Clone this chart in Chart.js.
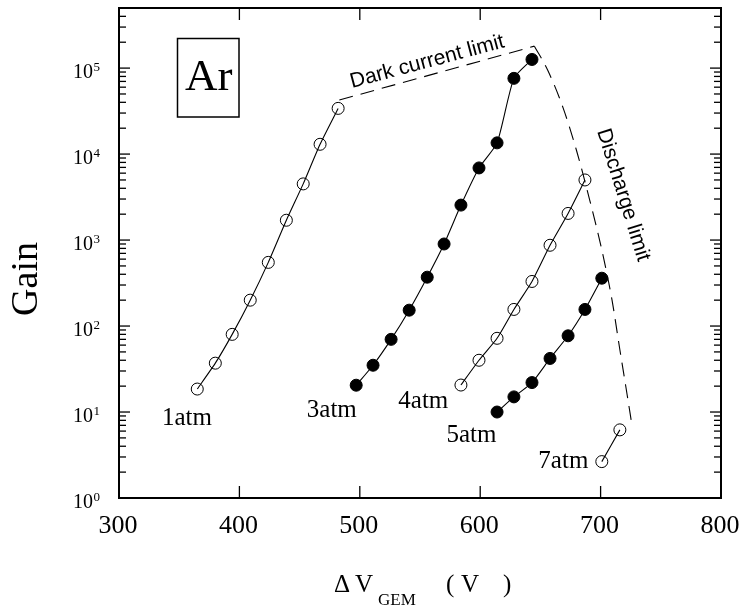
<!DOCTYPE html>
<html>
<head>
<meta charset="utf-8">
<script src="https://cdn.jsdelivr.net/npm/chart.js@4.4.0/dist/chart.umd.min.js"></script>
<style>
body { margin: 0; background: #fff; }
</style>
</head>
<body>
<canvas id="myChart" width="745" height="607"></canvas>
<script>
// gain curves, argon
const v1atm = [365, 380, 394, 409, 424, 439, 453, 467, 482];
const g1atm = [18.5, 37, 80, 200, 550, 1700, 4500, 13000, 34000];
const v3atm = [497, 511, 526, 541, 556, 570, 584, 599, 614, 628, 643];
const g3atm = [20.5, 35, 70, 153, 370, 900, 2550, 6900, 13500, 76000, 126000];
const v4atm = [584, 599, 614, 628, 643, 658, 673, 687];
const g4atm = [20.6, 40, 72, 156, 330, 870, 2040, 5000];
const v5atm = [614, 628, 643, 658, 673, 687, 701];
const g5atm = [10, 15, 22, 42, 77, 156, 360];
const v7atm = [701, 716];
const g7atm = [2.65, 6.2];

// limit lines
const vDark = [483, 645];
const gDark = [42500, 180000];
const vDischarge = [645, 656, 669, 680, 691, 701, 709.5, 716, 722, 726];
const gDischarge = [180000, 95000, 34000, 11000, 2900, 770, 200, 53, 16, 7.1];

const xTicks = [300, 400, 500, 600, 700, 800];
const yDecades = [0, 1, 2, 3, 4, 5];

const serif = '"Liberation Serif", "Times New Roman", serif';
const sans = '"Liberation Sans", Arial, sans-serif';

function pts(xs, ys) {
    return xs.map((x, i) => ({ x: x, y: ys[i] }));
}

function series(xs, ys, filled) {
    return {
        data: pts(xs, ys),
        showLine: true,
        borderColor: '#000',
        borderWidth: 1.1,
        backgroundColor: filled ? '#000' : 'rgba(0,0,0,0)',
        pointBorderColor: '#000',
        pointBackgroundColor: filled ? '#000' : 'rgba(0,0,0,0)',
        pointBorderWidth: 1,
        pointRadius: 6,
        tension: 0.2
    };
}

function limit(xs, ys) {
    return {
        data: pts(xs, ys),
        showLine: true,
        borderColor: '#000',
        borderWidth: 1.1,
        borderDash: [14, 8],
        pointRadius: 0,
        cubicInterpolationMode: 'monotone'
    };
}

// series labels, in data coordinates (left edge / baseline)
const atmLabels = [
    { text: '1atm', x: 335.7, y: 7.06 },
    { text: '3atm', x: 456, y: 8.8 },
    { text: '4atm', x: 532, y: 11.1 },
    { text: '5atm', x: 572, y: 4.5 },
    { text: '7atm', x: 648.3, y: 2.21 }
];

const decor = {
    id: 'decor',
    afterDraw(chart) {
        const ctx = chart.ctx, a = chart.chartArea;
        const xs = chart.scales.x, ys = chart.scales.y;
        ctx.save();
        ctx.strokeStyle = '#000';
        ctx.fillStyle = '#000';

        // frame
        ctx.lineWidth = 2;
        ctx.strokeRect(a.left, a.top, a.right - a.left, a.bottom - a.top);

        const line = (x1, y1, x2, y2) => {
            ctx.beginPath(); ctx.moveTo(x1, y1); ctx.lineTo(x2, y2); ctx.stroke();
        };

        // x ticks and labels
        ctx.lineWidth = 1.3;
        ctx.font = '26px ' + serif;
        ctx.textAlign = 'center';
        ctx.textBaseline = 'alphabetic';
        xTicks.forEach(v => {
            const px = xs.getPixelForValue(v);
            if (v > xs.min && v < xs.max) {
                line(px, a.bottom, px, a.bottom - 12);
                line(px, a.top, px, a.top + 12);
            }
            ctx.fillText(String(v), px - 1, 533);
        });

        // y ticks (log, minor 2..9)
        yDecades.forEach(k => {
            for (let m = 1; m <= 9; m++) {
                const v = m * Math.pow(10, k);
                if (v > ys.max) break;
                const py = ys.getPixelForValue(v);
                const len = m === 1 ? 11 : 7;
                line(a.left, py, a.left + len, py);
                line(a.right, py, a.right - len, py);
            }
        });

        // y labels 10^k
        ctx.textAlign = 'left';
        yDecades.forEach(k => {
            const py = ys.getPixelForValue(Math.pow(10, k));
            ctx.font = '13px ' + serif;
            const ew = ctx.measureText(String(k)).width;
            ctx.fillText(String(k), 100 - ew, py + 3);
            ctx.font = '20px ' + serif;
            const bw = ctx.measureText('10').width;
            ctx.fillText('10', 100 - ew - bw - 0.5, py + 10);
        });

        // axis titles
        ctx.save();
        ctx.translate(37, 279);
        ctx.rotate(-Math.PI / 2);
        ctx.font = '38px ' + serif;
        ctx.textAlign = 'center';
        ctx.fillText('Gain', 0, 0);
        ctx.restore();

        ctx.textAlign = 'left';
        ctx.font = '25px ' + serif;
        ctx.fillText('\u0394', 334, 592);
        ctx.fillText('V', 355, 592);
        ctx.fillText('(', 446, 592);
        ctx.fillText('V', 461, 592);
        ctx.fillText(')', 503, 592);
        ctx.font = '17px ' + serif;
        ctx.fillText('GEM', 378, 605);

        // Ar box
        ctx.lineWidth = 1.5;
        ctx.strokeRect(177.5, 38.5, 61.5, 78.5);
        ctx.font = '45px ' + serif;
        ctx.fillText('Ar', 185, 90);

        // limit labels
        ctx.font = '21px ' + sans;
        ctx.save();
        ctx.translate(352, 88);
        ctx.rotate(-15 * Math.PI / 180);
        ctx.fillText('Dark current limit', 0, 0);
        ctx.restore();
        ctx.save();
        ctx.translate(597, 131);
        ctx.rotate(72.6 * Math.PI / 180);
        ctx.fillText('Discharge limit', 0, 0);
        ctx.restore();

        // atm labels
        ctx.font = '25px ' + serif;
        atmLabels.forEach(l => {
            ctx.fillText(l.text, xs.getPixelForValue(l.x), ys.getPixelForValue(l.y));
        });

        ctx.restore();
    }
};

const config = {
    type: 'scatter',
    data: {
        datasets: [
            series(v1atm, g1atm, false),
            series(v3atm, g3atm, true),
            series(v4atm, g4atm, false),
            series(v5atm, g5atm, true),
            series(v7atm, g7atm, false),
            limit(vDark, gDark),
            limit(vDischarge, gDischarge)
        ]
    },
    options: {
        responsive: false,
        animation: false,
        devicePixelRatio: 1,
        layout: {
            padding: { left: 119, right: 24, top: 8, bottom: 109 }
        },
        scales: {
            x: {
                type: 'linear',
                min: 300,
                max: 800,
                display: false
            },
            y: {
                type: 'logarithmic',
                min: 1,
                max: 500000,
                display: false
            }
        },
        plugins: {
            legend: false,
            tooltip: { enabled: false }
        }
    },
    plugins: [decor]
};

const myChart = new Chart(document.getElementById('myChart'), config);
</script>
</body>
</html>
